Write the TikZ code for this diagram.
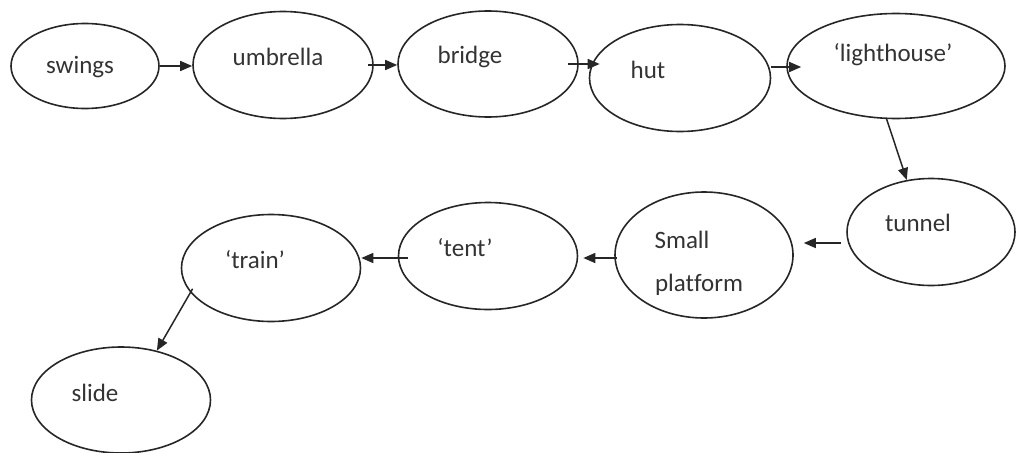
\documentclass[tikz,border=0pt]{standalone}
\usepackage{fontspec}
\setmainfont[Ligatures={NoCommon}]{Carlito}
\usetikzlibrary{shapes.geometric,arrows.meta}
\begin{document}
\begin{tikzpicture}[x=1pt,y=-1pt,
  oval/.style={draw=black!85, line width=1.6pt, ellipse, inner sep=0pt},
  lbl/.style={font=\fontsize{25}{29}\selectfont, text=black!80, inner sep=0pt, align=left},
  arr/.style={line width=1.5pt, draw=black!85, -{Triangle[length=12pt,width=10pt]}}]
\useasboundingbox (0,0) rectangle (1016,452);
% ellipses
\node[oval, minimum width=148pt, minimum height=85pt] (swings) at (85,66) {};
\node[oval, minimum width=180pt, minimum height=107pt] (umbrella) at (283,65) {};
\node[oval, minimum width=180pt, minimum height=106pt] (bridge) at (488,64) {};
\node[oval, minimum width=181pt, minimum height=107pt] (hut) at (680,78) {};
\node[oval, minimum width=218pt, minimum height=105pt] (lighthouse) at (896,66) {};
\node[oval, minimum width=168pt, minimum height=107pt] (tunnel) at (931,232) {};
\node[oval, minimum width=178pt, minimum height=126pt] (platform) at (704,255) {};
\node[oval, minimum width=179pt, minimum height=107pt] (tent) at (488,256) {};
\node[oval, minimum width=179pt, minimum height=107pt] (train) at (271,268) {};
\node[oval, minimum width=179pt, minimum height=106pt] (slide) at (121,400) {};
% labels
\node[lbl] (swingsT) at (80,67) {swings};
\node[lbl] (umbrellaT) at (278,57) {umbrella};
\node[lbl] (bridgeT) at (470,57) {bridge};
\node[lbl] (hutT) at (648,70) {hut};
\node[lbl] (lighthouseT) at (893,55) {‘lighthouse’};
\node[lbl] (tunnelT) at (918,223) {tunnel};
\node[lbl] (smallT) at (682,240) {Small};
\node[lbl] (platformT) at (699,285) {platform};
\node[lbl] (tentT) at (465,248) {‘tent’};
\node[lbl] (trainT) at (255,260) {‘train’};
\node[lbl] (slideT) at (95,393) {slide};
% connectors
\draw[arr] (swings.east) -- (swings.east -| umbrella.west);
\draw[arr] ([xshift=-6pt]umbrella.east) -- (umbrella.east -| bridge.west);
\draw[arr] ([xshift=-11pt]bridge.east) -- ([xshift=11pt]bridge.east -| hut.west);
\draw[arr] ([yshift=11pt]hut.east) -- ([xshift=15pt,yshift=11pt]hut.east -| lighthouse.west);
\draw[arr] (lighthouse.260) -- (tunnel.115);
\draw[arr] ([xshift=-5pt,yshift=-11pt]tunnel.west) -- ([xshift=10pt,yshift=-11pt]tunnel.west -| platform.east);
\draw[arr] ([xshift=3pt,yshift=-3pt]platform.west) -- ([xshift=5pt,yshift=-3pt]platform.west -| tent.east);
\draw[arr] ([xshift=10pt,yshift=-2pt]tent.west) -- ([yshift=-2pt]tent.west -| train.east);
\draw[arr] ([xshift=5pt]train.194) -- (slide.54);
\end{tikzpicture}
\end{document}
